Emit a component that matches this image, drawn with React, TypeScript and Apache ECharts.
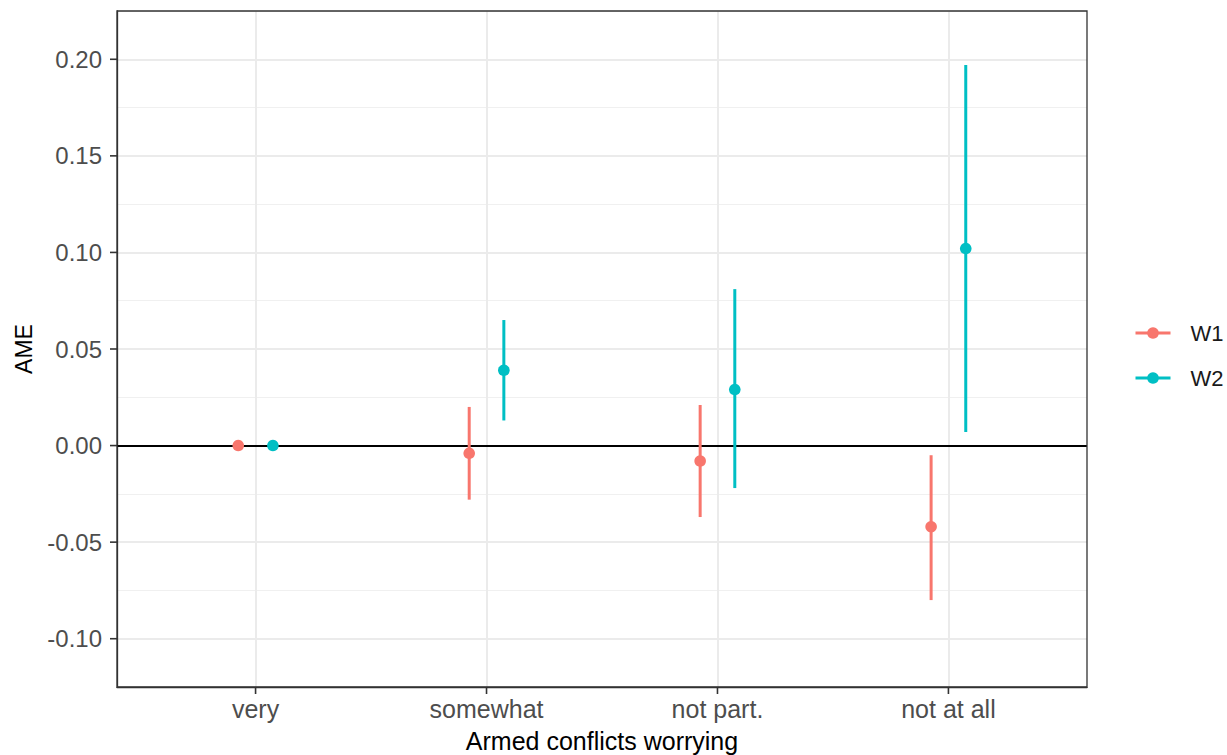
import React, { useEffect, useRef } from "react";
import * as echarts from "echarts";

const categories = ["very", "somewhat", "not part.", "not at all"];
const w1Est = [0, -0.004, -0.008, -0.042];
const w1Low = [null, -0.028, -0.037, -0.08];
const w1High = [null, 0.02, 0.021, -0.005];
const w2Est = [0, 0.039, 0.029, 0.102];
const w2Low = [null, 0.013, -0.022, 0.007];
const w2High = [null, 0.065, 0.081, 0.197];
const yTicks = [-0.1, -0.05, 0, 0.05, 0.1, 0.15, 0.2];
const seriesNames = ["W1", "W2"];
const colors = ["#F8766D", "#00BFC4"];

const FONT = "'Liberation Sans', Arial, Helvetica, sans-serif";

const X_MIN = -0.6;
const X_MAX = 3.6;
const Y_MIN = -0.125;
const Y_MAX = 0.225;

const W = 1227;
const H = 755;
const GRID = { left: 117, right: 140, top: 11, bottom: 68 };

function build(est: number[], low: (number | null)[], high: (number | null)[]) {
  return est.map((e, i) => [i, e, low[i] == null ? NaN : low[i], high[i] == null ? NaN : high[i]]);
}

function makeRender(offset: number, color: string) {
  return (params: any, api: any) => {
    const x = api.value(0) + offset;
    const est = api.value(1);
    const lo = api.value(2);
    const hi = api.value(3);
    const p = api.coord([x, est]);
    const children: any[] = [];
    if (!isNaN(lo) && !isNaN(hi)) {
      const a = api.coord([x, lo]);
      const b = api.coord([x, hi]);
      children.push({
        type: "line",
        shape: { x1: a[0], y1: a[1], x2: b[0], y2: b[1] },
        style: { stroke: color, lineWidth: 3 },
      });
    }
    children.push({
      type: "circle",
      shape: { cx: p[0], cy: p[1], r: 5.8 },
      style: { fill: color },
    });
    return { type: "group", children };
  };
}

export default function App() {
  const ref = useRef<HTMLDivElement>(null);
  useEffect(() => {
    if (!ref.current) return;
    const chart = echarts.init(ref.current, null, { renderer: "svg" });
    const dodge = 0.075;
    const axisLineStyle = { color: "#333333", width: 1.3 };
    const tickLen = 7;

    // axis tick marks, mapped from the axis ranges onto the grid rectangle
    const gx0 = GRID.left;
    const gx1 = W - GRID.right;
    const gy0 = H - GRID.bottom;
    const gy1 = GRID.top;
    const mapX = (v: number) => gx0 + ((v - X_MIN) / (X_MAX - X_MIN)) * (gx1 - gx0);
    const mapY = (v: number) => gy0 + ((v - Y_MIN) / (Y_MAX - Y_MIN)) * (gy1 - gy0);
    const tickGraphics: any[] = [
      ...yTicks.map((v) => ({
        type: "line",
        z: 100,
        shape: { x1: gx0 - tickLen, y1: mapY(v), x2: gx0, y2: mapY(v) },
        style: { stroke: "#333333", lineWidth: 1.6 },
      })),
      ...categories.map((c, i) => ({
        type: "line",
        z: 100,
        shape: { x1: mapX(i), y1: gy0, x2: mapX(i), y2: gy0 + tickLen },
        style: { stroke: "#333333", lineWidth: 1.6 },
      })),
    ];

    const legendGraphics: any[] = seriesNames.map((n, i) => ({
      type: "group",
      left: 1133,
      top: 322 + i * 45,
      children: [
        { type: "line", shape: { x1: 0, y1: 12, x2: 35, y2: 12 }, style: { stroke: colors[i], lineWidth: 3 } },
        { type: "circle", shape: { cx: 17.5, cy: 12, r: 5.8 }, style: { fill: colors[i] } },
        {
          type: "text",
          x: 55,
          y: 12,
          style: { text: n, fontSize: 22, fontFamily: FONT, fill: "#1A1A1A", verticalAlign: "middle" },
        },
      ],
    }));
    const option: any = {
      animation: false,
      backgroundColor: "#ffffff",
      textStyle: { fontFamily: FONT },
      grid: {
        left: GRID.left,
        right: GRID.right,
        top: GRID.top,
        bottom: GRID.bottom,
        show: true,
        borderColor: "#333333",
        borderWidth: 1.3,
        backgroundColor: "transparent",
        z: 3,
        containLabel: false,
        outerBoundsMode: "none",
      },
      xAxis: {
        type: "value",
        min: X_MIN,
        max: X_MAX,
        axisLine: { show: true, onZero: false, lineStyle: axisLineStyle },
        axisTick: { show: false, customValues: [0, 1, 2, 3] },
        axisLabel: {
          customValues: [0, 1, 2, 3],
          formatter: (v: number) => categories[Math.round(v)] ?? "",
          color: "#4D4D4D",
          fontSize: 25,
          fontFamily: FONT,
          margin: 9,
        },
        splitLine: { show: true, lineStyle: { color: "#EBEBEB", width: 2 } },
        name: "Armed conflicts worrying",
        nameLocation: "middle",
        nameGap: 41,
        nameTextStyle: { color: "#000000", fontSize: 25, fontFamily: FONT },
      },
      yAxis: [
        {
          type: "value",
          position: "right",
          min: Y_MIN,
          max: Y_MAX,
          interval: 0.025,
          axisLine: { show: false, onZero: false },
          axisTick: { show: false },
          axisLabel: { show: false },
          splitLine: { show: true, lineStyle: { color: "#F0F0F0", width: 1 } },
        },
        {
          type: "value",
          position: "left",
          min: Y_MIN,
          max: Y_MAX,
          interval: 0.025,
          axisLine: { show: true, onZero: false, lineStyle: axisLineStyle },
          axisTick: { show: false, customValues: yTicks },
          axisLabel: {
            customValues: yTicks,
            formatter: (v: number) => v.toFixed(2),
            color: "#4D4D4D",
            fontSize: 24,
            fontFamily: FONT,
            margin: 15,
          },
          splitLine: { show: true, lineStyle: { color: "#EBEBEB", width: 2 } },
          name: "AME",
          nameLocation: "middle",
          nameGap: 82,
          nameRotate: 90,
          nameTextStyle: { color: "#000000", fontSize: 23, fontFamily: FONT },
        },
      ],
      series: [
        {
          type: "line",
          name: "zero",
          data: [],
          yAxisIndex: 1,
          silent: true,
          markLine: {
            silent: true,
            z: 1,
            symbol: ["none", "none"],
            label: { show: false },
            lineStyle: { color: "#000000", width: 2, type: "solid" },
            data: [{ yAxis: 0 }],
          },
        },
        {
          type: "custom",
          name: seriesNames[0],
          yAxisIndex: 1,
          z: 4,
          encode: { x: 0, y: 1 },
          renderItem: makeRender(-dodge, colors[0]),
          data: build(w1Est, w1Low, w1High),
        },
        {
          type: "custom",
          name: seriesNames[1],
          yAxisIndex: 1,
          z: 4,
          encode: { x: 0, y: 1 },
          renderItem: makeRender(dodge, colors[1]),
          data: build(w2Est, w2Low, w2High),
        },
      ],
      graphic: legendGraphics.concat(tickGraphics),
    };
    chart.setOption(option);
    return () => chart.dispose();
  }, []);
  return (
    <div
      ref={ref}
      style={{ position: "fixed", left: 0, top: 0, width: W, height: H, background: "#fff" }}
    />
  );
}
